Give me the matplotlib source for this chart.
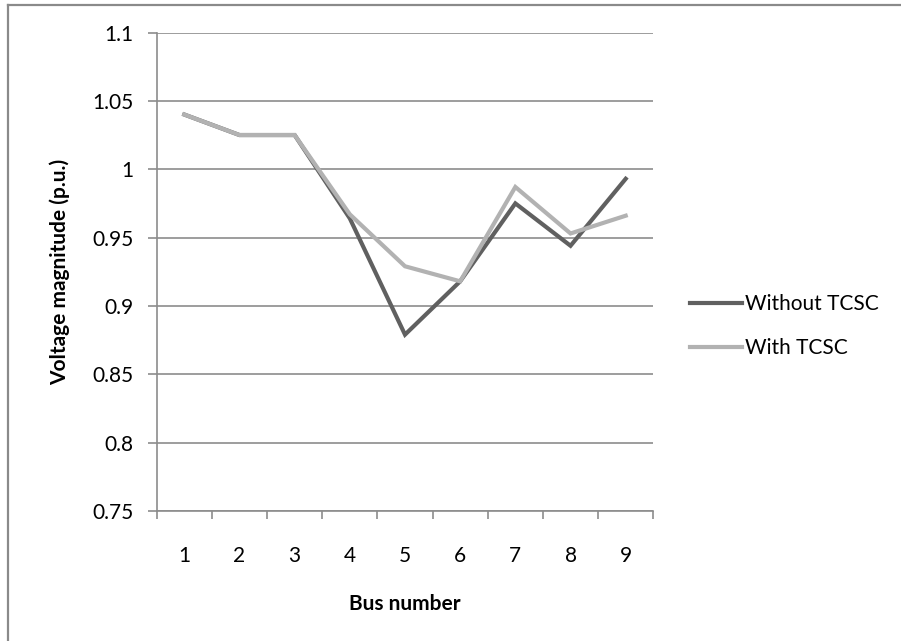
import matplotlib
matplotlib.use("Agg")
import matplotlib.pyplot as plt
from matplotlib.lines import Line2D

plt.rcParams['font.family'] = ['Lato', 'DejaVu Sans']

buses = [1, 2, 3, 4, 5, 6, 7, 8, 9]
without_tcsc = [1.040, 1.025, 1.025, 0.964, 0.879, 0.918, 0.975, 0.944, 0.993]
with_tcsc = [1.040, 1.025, 1.025, 0.967, 0.929, 0.918, 0.987, 0.953, 0.966]
y_ticks = [0.75, 0.8, 0.85, 0.9, 0.95, 1.0, 1.05, 1.1]
y_tick_labels = ["0.75", "0.8", "0.85", "0.9", "0.95", "1", "1.05", "1.1"]

W, H = 901, 641
fig = plt.figure(figsize=(W / 100, H / 100), dpi=100)
fig.patch.set_facecolor("white")

# chart-area border: left and top edges
border = "#8a8a8a"
fig.add_artist(Line2D([8 / W, 8 / W], [0, 1 - 5 / H], transform=fig.transFigure,
                      color=border, linewidth=1.6))
fig.add_artist(Line2D([8 / W, 1], [1 - 5 / H, 1 - 5 / H], transform=fig.transFigure,
                      color=border, linewidth=1.6))

left, right, top, bottom = 156.7, 653.3, 32.5, 511.0
ax = fig.add_axes([left / W, 1 - bottom / H, (right - left) / W, (bottom - top) / H])

grid_color = "#8c8c8c"
fs = 15
x = list(range(len(buses)))
ax.plot(x, without_tcsc, color="#606060", linewidth=3.0, solid_joinstyle="miter",
        label="Without TCSC", zorder=3)
ax.plot(x, with_tcsc, color="#b2b2b2", linewidth=3.0, solid_joinstyle="miter",
        label="With TCSC", zorder=4)

ax.set_xlim(-0.5, len(buses) - 0.5)
ax.set_ylim(0.75, 1.1)
ax.set_yticks(y_ticks)
ax.set_yticklabels(y_tick_labels)
ax.set_xticks(x)
ax.set_xticklabels([str(b) for b in buses])
# category tick marks sit between the categories
ax.set_xticks([i - 0.5 for i in range(len(buses) + 1)], minor=True)
ax.tick_params(axis="x", which="major", length=0, pad=25, labelsize=fs)
ax.tick_params(axis="x", which="minor", length=6, width=1.2, color=grid_color, direction="out")
ax.tick_params(axis="y", which="major", length=6.5, width=1.2, color=grid_color,
               direction="out", pad=10, labelsize=fs)

ax.yaxis.grid(True, color=grid_color, linewidth=1.2)
ax.set_axisbelow(True)
for side in ("top", "right"):
    ax.spines[side].set_visible(False)
for side in ("left", "bottom"):
    ax.spines[side].set_color(grid_color)
    ax.spines[side].set_linewidth(1.2)

ax.set_xlabel("Bus number", fontsize=fs, fontweight="bold")
ax.set_ylabel("Voltage magnitude (p.u.)", fontsize=fs, fontweight="bold")
ax.xaxis.set_label_coords(0.5, -(594 - bottom) / (bottom - top))
ax.yaxis.set_label_coords(-(left - 70) / (right - left), 0.5)

ax.legend(loc="center left", bbox_to_anchor=(690 / W, 1 - 326 / H),
          bbox_transform=fig.transFigure, frameon=False, fontsize=fs,
          handlelength=2.5, handletextpad=0.12, labelspacing=1.15,
          borderpad=0, borderaxespad=0)

fig.savefig("out.png", dpi=100, facecolor="white")
